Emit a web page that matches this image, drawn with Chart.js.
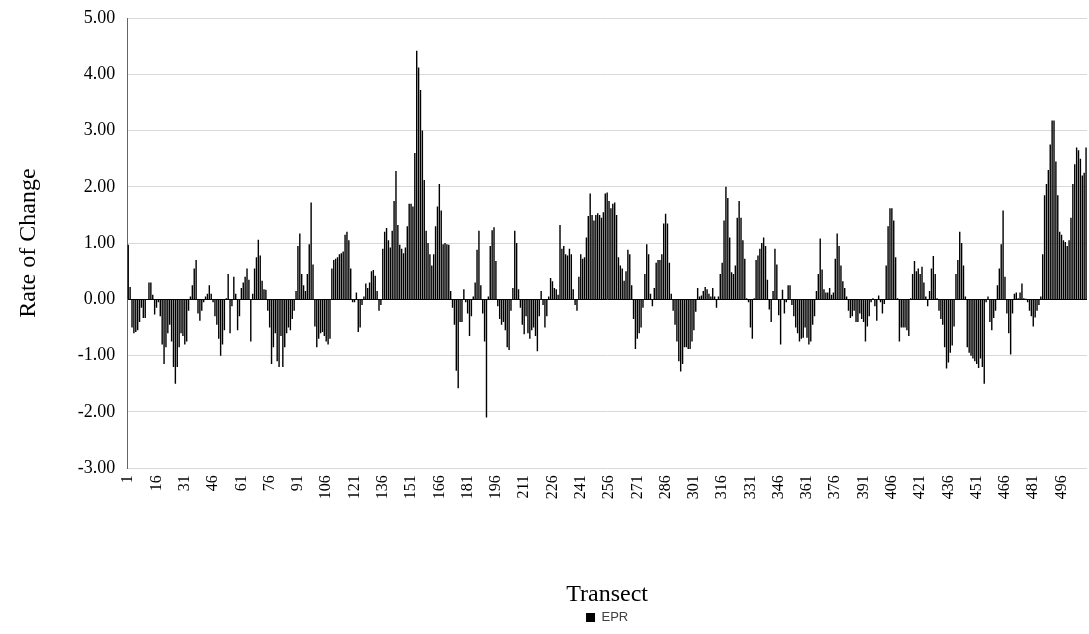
<!DOCTYPE html>
<html>
<head>
<meta charset="utf-8">
<script src="https://cdn.jsdelivr.net/npm/chart.js@4/dist/chart.umd.min.js"></script>
<style>
  html, body { margin: 0; padding: 0; background: #ffffff; }
  #wrap { width: 1089px; height: 634px; }
</style>
</head>
<body>
<div id="wrap"><canvas id="c" width="1089" height="634"></canvas></div>
<script>
// Series values (EPR, rate of change per transect)
const epr = [
 0.97,0.22,-0.5,-0.6,-0.58,-0.55,-0.4,-0.15,-0.33,-0.33,
 0.0,0.3,0.3,0.08,-0.27,-0.15,-0.05,-0.3,-0.8,-1.15,
 -0.85,-0.6,-0.45,-0.75,-1.2,-1.5,-1.2,-0.85,-0.6,-0.65,
 -0.8,-0.75,-0.2,0.05,0.25,0.55,0.7,-0.25,-0.38,-0.2,
 -0.05,0.05,0.1,0.25,0.1,-0.05,-0.3,-0.45,-0.7,-1.0,
 -0.8,-0.55,0.02,0.45,-0.6,-0.12,0.4,0.1,-0.55,-0.3,
 0.2,0.3,0.4,0.55,0.35,-0.75,0.1,0.55,0.75,1.06,
 0.78,0.33,0.18,0.17,-0.2,-0.5,-1.15,-0.85,-0.6,-1.1,
 -1.2,-0.65,-1.2,-0.85,-0.6,-0.5,-0.55,-0.35,-0.2,0.15,
 0.95,1.17,0.45,0.25,0.15,0.45,0.98,1.72,0.62,-0.48,
 -0.85,-0.7,-0.6,-0.58,-0.65,-0.75,-0.8,-0.7,0.55,0.7,
 0.72,0.75,0.8,0.82,0.85,1.15,1.2,1.05,0.55,-0.05,
 -0.05,0.12,-0.58,-0.5,-0.1,0.05,0.28,0.2,0.3,0.5,
 0.52,0.42,0.15,-0.2,-0.1,0.9,1.2,1.27,1.05,0.92,
 1.22,1.75,2.28,1.32,0.97,0.9,0.82,0.92,1.3,1.7,
 1.7,1.65,2.6,4.42,4.12,3.72,3.0,2.12,1.22,1.0,
 0.8,0.6,0.8,1.3,1.65,2.05,1.58,0.98,1.0,0.98,
 0.97,0.15,-0.15,-0.45,-1.27,-1.58,-0.4,-0.4,0.18,-0.05,
 -0.25,-0.65,-0.3,0.05,0.3,0.88,1.22,0.25,-0.25,-0.75,
 -2.1,0.05,0.95,1.23,1.28,0.68,-0.12,-0.35,-0.45,-0.4,
 -0.55,-0.85,-0.9,-0.2,0.2,1.22,1.0,0.18,-0.15,-0.45,
 -0.62,-0.3,-0.6,-0.7,-0.55,-0.5,-0.65,-0.92,-0.3,0.15,
 -0.1,-0.5,-0.3,0.05,0.38,0.32,0.2,0.18,0.08,1.32,
 0.9,0.95,0.8,0.78,0.9,0.8,0.18,-0.1,-0.2,0.4,
 0.8,0.72,0.75,1.1,1.48,1.88,1.5,1.4,1.5,1.53,
 1.5,1.45,1.55,1.88,1.9,1.75,1.62,1.7,1.72,1.5,
 0.75,0.6,0.55,0.33,0.5,0.88,0.8,0.25,-0.35,-0.88,
 -0.7,-0.6,-0.5,-0.15,0.45,0.98,0.8,0.1,-0.12,0.2,
 0.65,0.7,0.7,0.8,1.35,1.52,1.35,0.65,0.1,-0.2,
 -0.45,-0.75,-1.1,-1.28,-1.15,-0.85,-0.85,-0.88,-0.88,-0.75,
 -0.55,-0.22,0.2,0.05,0.07,0.15,0.22,0.18,0.1,0.05,
 0.2,0.05,-0.15,0.05,0.45,0.65,1.4,2.0,1.8,1.1,
 0.48,0.45,0.6,1.45,1.75,1.45,1.05,0.72,0.02,-0.05,
 -0.5,-0.7,0.02,0.7,0.78,0.9,1.0,1.1,0.95,0.35,
 -0.18,-0.4,0.15,0.9,0.62,-0.28,-0.8,0.17,-0.25,-0.05,
 0.25,0.25,-0.1,-0.3,-0.5,-0.6,-0.75,-0.7,-0.68,-0.5,
 -0.68,-0.8,-0.75,-0.45,-0.3,0.15,0.45,1.08,0.53,0.18,
 0.12,0.12,0.2,0.08,0.12,0.72,1.17,0.95,0.6,0.32,
 0.2,0.05,-0.2,-0.33,-0.3,-0.2,-0.4,-0.4,-0.25,-0.35,
 -0.4,-0.75,-0.48,-0.3,-0.05,0.02,-0.12,-0.38,0.07,-0.05,
 -0.25,-0.08,0.6,1.3,1.62,1.62,1.4,0.75,0.02,-0.75,
 -0.5,-0.5,-0.5,-0.55,-0.65,0.02,0.45,0.68,0.5,0.55,
 0.45,0.58,0.3,0.05,-0.12,0.15,0.55,0.77,0.45,0.02,
 -0.2,-0.35,-0.45,-0.85,-1.23,-1.12,-0.95,-0.82,-0.48,0.45,
 0.7,1.2,1.0,0.6,0.05,-0.85,-0.95,-1.0,-1.05,-1.1,
 -1.15,-1.22,-1.05,-1.2,-1.5,-0.05,0.05,-0.4,-0.55,-0.33,
 -0.2,0.25,0.55,0.98,1.58,0.4,-0.25,-0.6,-0.98,-0.25,
 0.1,0.12,0.02,0.12,0.28,0.02,0.01,-0.05,-0.2,-0.3,
 -0.48,-0.32,-0.2,-0.1,0.05,0.8,1.85,2.05,2.3,2.75,
 3.18,3.18,2.45,1.85,1.2,1.15,1.05,1.02,0.95,1.05,
 1.45,2.05,2.4,2.7,2.65,2.5,2.2,2.25,2.7
];

// Categories: transect numbers
const transects = epr.map((_, i) => String(i + 1));

// Tick labels shown on the category axis
const tickLabels = ['1','16','31','46','61','76','91','106','121','136','151','166','181','196','211',
  '226','241','256','271','286','301','316','331','346','361','376','391','406','421','436','451','466','481','496'];

const yTicks = { min: -3, max: 5, step: 1 };
const seriesName = 'EPR';
const xTitle = 'Transect';
const yTitle = 'Rate of Change';

const serif = "'Liberation Serif', 'Times New Roman', serif";

new Chart(document.getElementById('c'), {
  type: 'bar',
  data: {
    labels: transects,
    datasets: [{
      label: seriesName,
      data: epr,
      backgroundColor: '#000000',
      borderWidth: 0,
      barPercentage: 0.75,
      categoryPercentage: 1.0
    }]
  },
  options: {
    responsive: false,
    animation: false,
    devicePixelRatio: 1,
    layout: { padding: { left: 14, right: 2, top: 18, bottom: 0 } },
    plugins: {
      legend: {
        position: 'bottom',
        fullSize: false,
        labels: {
          boxWidth: 9, boxHeight: 9, padding: 10,
          color: '#404040',
          font: { family: "'Liberation Sans', Arial, sans-serif", size: 13 }
        }
      },
      tooltip: { enabled: false }
    },
    scales: {
      x: {
        grid: { display: false, drawTicks: false },
        border: { display: false },
        afterFit: (s) => { s.paddingRight = 0; s.paddingLeft = 0; },
        ticks: {
          autoSkip: false, maxRotation: 90, minRotation: 90, padding: 7,
          color: '#000000',
          font: { family: serif, size: 16 },
          callback: function (val) {
            const lab = this.getLabelForValue(val);
            return tickLabels.includes(lab) ? lab : '';
          }
        },
        title: {
          display: true, text: xTitle, color: '#000000',
          font: { family: serif, size: 24 },
          padding: { top: 74, bottom: -8 }
        }
      },
      y: {
        min: yTicks.min, max: yTicks.max,
        afterFit: (s) => { s.paddingTop = 0; s.paddingBottom = 0; },
        grid: {
          drawTicks: false,
          color: (ctx) => (ctx.tick && ctx.tick.value === 0) ? '#000000' : '#d9d9d9',
          lineWidth: 1
        },
        border: { display: true, color: '#666666', width: 1 },
        ticks: {
          stepSize: yTicks.step, padding: 12, color: '#000000',
          font: { family: serif, size: 18 },
          callback: (v) => v.toFixed(2)
        },
        title: {
          display: true, text: yTitle, color: '#000000',
          font: { family: serif, size: 24 },
          padding: { top: 0, bottom: 23 }
        }
      }
    }
  }
});
</script>
</body>
</html>
